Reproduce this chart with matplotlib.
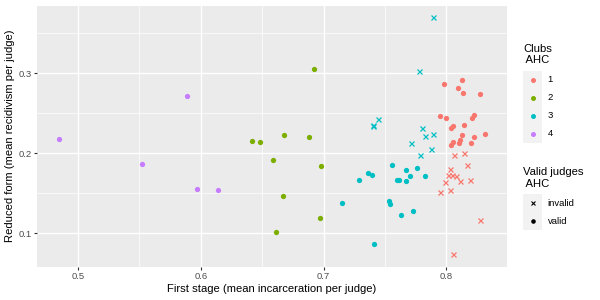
import matplotlib
matplotlib.use("Agg")
import matplotlib.pyplot as plt
from matplotlib.patches import Rectangle

plt.rcParams['font.family'] = ['Liberation Sans', 'DejaVu Sans']

# judge-level data
first_stage = [
    # club 1, valid
    0.798, 0.8125, 0.8094, 0.8137, 0.8273, 0.795, 0.800, 0.8225, 0.8206, 0.8054,
    0.8037, 0.8146, 0.8317, 0.813, 0.8227, 0.8056, 0.804, 0.811, 0.8103, 0.8203,
    # club 1, invalid
    0.8063, 0.8146, 0.8165, 0.803, 0.8016, 0.8046, 0.8079, 0.799, 0.8113, 0.8195,
    0.795, 0.8032, 0.8273, 0.805,
    # club 2, valid
    0.642, 0.648, 0.668, 0.688, 0.692, 0.659, 0.698, 0.667, 0.697, 0.661,
    # club 3, valid
    0.756, 0.736, 0.739, 0.729, 0.767, 0.7596, 0.761, 0.767, 0.7704, 0.776,
    0.7826, 0.715, 0.7536, 0.7544, 0.7726, 0.763, 0.741,
    # club 3, invalid
    0.789, 0.778, 0.744, 0.740, 0.7403, 0.780, 0.7828, 0.789, 0.771, 0.787, 0.7787,
    # club 4, valid
    0.485, 0.552, 0.589, 0.597, 0.614,
]
reduced_form = [
    0.287, 0.291, 0.2816, 0.275, 0.2737, 0.247, 0.244, 0.248, 0.244, 0.2345,
    0.232, 0.2357, 0.2237, 0.2233, 0.220, 0.2141, 0.2108, 0.2163, 0.2125, 0.2129,
    0.1975, 0.200, 0.1854, 0.180, 0.1725, 0.1725, 0.1716, 0.1645, 0.165, 0.167,
    0.1516, 0.154, 0.117, 0.0733,
    0.215, 0.2145, 0.223, 0.220, 0.305, 0.191, 0.184, 0.147, 0.1195, 0.102,
    0.185, 0.175, 0.173, 0.166, 0.1795, 0.166, 0.166, 0.165, 0.172, 0.181,
    0.172, 0.138, 0.140, 0.1366, 0.128, 0.123, 0.0858,
    0.370, 0.303, 0.2425, 0.2345, 0.2357, 0.2316, 0.2216, 0.224, 0.2125, 0.2054, 0.198,
    0.218, 0.187, 0.272, 0.155, 0.154,
]
club = [1] * 34 + [2] * 10 + [3] * 28 + [4] * 5
valid = ([True] * 20 + [False] * 14 + [True] * 10 + [True] * 17 + [False] * 11
         + [True] * 5)

clubs = [1, 2, 3, 4]
club_colors = {1: '#F8766D', 2: '#7CAE00', 3: '#00BFC4', 4: '#C77CFF'}
valid_labels = ['invalid', 'valid']

TITLE = 8.1
LABEL = 6.8

W, H = 600, 300
fig = plt.figure(figsize=(6, 3), dpi=100)
left, right, top, bottom = 37.3, 506.7, 5.7, 266.7
ax = fig.add_axes([left / W, 1 - bottom / H, (right - left) / W, (bottom - top) / H])
ax.set_facecolor('#EBEBEB')
for s in ax.spines.values():
    s.set_visible(False)

for c, v, x, y in zip(club, valid, first_stage, reduced_form):
    if v:
        ax.plot(x, y, 'o', ms=3.8, mew=0, color=club_colors[c], zorder=3)
    else:
        ax.plot(x, y, 'x', ms=3.6, mew=0.9, color=club_colors[c], zorder=3)

ax.set_xlim(0.467, 0.849)
ax.set_ylim(0.058, 0.3845)
ax.set_xticks([0.5, 0.6, 0.7, 0.8])
ax.set_xticklabels(['0.5', '0.6', '0.7', '0.8'])
ax.set_yticks([0.1, 0.2, 0.3])
ax.set_yticklabels(['0.1', '0.2', '0.3'])
ax.set_xticks([0.55, 0.65, 0.75], minor=True)
ax.set_yticks([0.15, 0.25, 0.35], minor=True)
ax.grid(True, which='major', color='white', lw=1.0)
ax.grid(True, which='minor', color='white', lw=0.5)
ax.set_axisbelow(True)
ax.tick_params(which='major', length=2.2, width=0.8, color='#333333',
               labelsize=LABEL, labelcolor='#4D4D4D', pad=1.5)
ax.tick_params(which='minor', length=0)
ax.set_xlabel('First stage (mean incarceration per judge)', fontsize=TITLE, labelpad=2)
ax.set_ylabel('Reduced form (mean recidivism per judge)', fontsize=TITLE, labelpad=3)

# legends drawn in pixel space on an overlay
lax = fig.add_axes([0, 0, 1, 1])
lax.set_xlim(0, W)
lax.set_ylim(H, 0)
lax.axis('off')
lax.patch.set_visible(False)

kx0, kw, kh = 523.3, 18.4, 18
lax.text(523.3, 54.5, 'Clubs\n AHC', fontsize=TITLE, va='center', ha='left',
         linespacing=1.15)
y0 = 70.7
lax.add_patch(Rectangle((kx0, y0), kw, kh * len(clubs), color='#F2F2F2', lw=0))
for i, c in enumerate(clubs):
    cy = y0 + kh * (i + 0.5)
    lax.plot(kx0 + kw / 2, cy, 'o', ms=3.6, mew=0, color=club_colors[c])
    lax.text(547.7, cy, str(c), fontsize=LABEL, va='center', ha='left')

lax.text(523.3, 178, 'Valid judges\n AHC', fontsize=TITLE, va='center', ha='left',
         linespacing=1.15)
y1 = 194
lax.add_patch(Rectangle((kx0, y1), kw, kh * len(valid_labels), color='#F2F2F2', lw=0))
for i, lab in enumerate(valid_labels):
    cy = y1 + kh * (i + 0.5)
    if lab == 'valid':
        lax.plot(kx0 + kw / 2, cy, 'o', ms=3.3, mew=0, color='black')
    else:
        lax.plot(kx0 + kw / 2, cy, 'x', ms=3.2, mew=0.8, color='black')
    lax.text(547.7, cy, lab, fontsize=LABEL, va='center', ha='left')

fig.savefig('out.png', dpi=100)
